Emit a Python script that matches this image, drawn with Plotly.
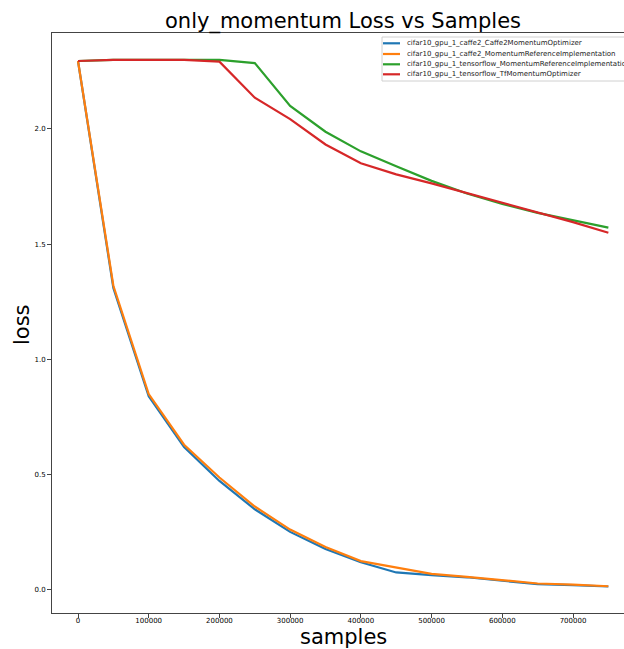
import plotly.graph_objects as go

samples = [0, 50000, 100000, 150000, 200000, 250000, 300000, 350000, 400000,
           450000, 500000, 550000, 600000, 650000, 700000, 750000]

names = [
    "cifar10_gpu_1_caffe2_Caffe2MomentumOptimizer",
    "cifar10_gpu_1_caffe2_MomentumReferenceImplementation",
    "cifar10_gpu_1_tensorflow_MomentumReferenceImplementation",
    "cifar10_gpu_1_tensorflow_TfMomentumOptimizer",
]

caffe2_opt = [2.295, 1.31, 0.84, 0.62, 0.473, 0.35, 0.252, 0.178, 0.12,
              0.076, 0.064, 0.055, 0.04, 0.025, 0.021, 0.015]
caffe2_ref = [2.295, 1.32, 0.85, 0.63, 0.488, 0.362, 0.262, 0.186, 0.125,
              0.098, 0.07, 0.057, 0.042, 0.028, 0.023, 0.016]
tf_ref = [2.295, 2.30, 2.30, 2.30, 2.30, 2.286, 2.10, 1.988, 1.903,
          1.838, 1.775, 1.72, 1.675, 1.636, 1.603, 1.572]
tf_opt = [2.295, 2.30, 2.30, 2.30, 2.292, 2.136, 2.043, 1.933, 1.851,
          1.803, 1.764, 1.722, 1.682, 1.638, 1.596, 1.55]

x_tickvals = [0, 100000, 200000, 300000, 400000, 500000, 600000, 700000]
x_ticktext = ["0", "100000", "200000", "300000", "400000", "500000", "600000", "700000"]
y_tickvals = [0, 0.5, 1.0, 1.5, 2.0]
y_ticktext = ["0.0", "0.5", "1.0", "1.5", "2.0"]

series = [caffe2_opt, caffe2_ref, tf_ref, tf_opt]
colors = ["#1f77b4", "#ff7f0e", "#2ca02c", "#d62728"]

W, H = 624, 649
L, R, T, B = 52, 0, 33, 36
PW, PH = W - L - R, H - T - B


def px(x):
    return (x - L) / PW


def py(y):
    return (H - B - y) / PH


fig = go.Figure()
for name, vals, c in zip(names, series, colors):
    fig.add_trace(go.Scatter(x=samples, y=vals, mode="lines", name=name,
                             line=dict(color=c, width=2.2), showlegend=False))

# compact legend (matplotlib style)
shapes = [dict(type="rect", xref="paper", yref="paper",
               x0=px(382), x1=px(660), y0=py(81), y1=py(37),
               line=dict(color="#d0d0d0", width=1), fillcolor="rgba(255,255,255,0.8)",
               layer="above")]
annotations = []
row_y = [43.3, 54.0, 64.3, 74.3]
for name, c, ry in zip(names, colors, row_y):
    shapes.append(dict(type="line", xref="paper", yref="paper",
                       x0=px(383), x1=px(400), y0=py(ry), y1=py(ry),
                       line=dict(color=c, width=2.2), layer="above"))
    annotations.append(dict(text=name, xref="paper", yref="paper",
                            x=px(405), y=py(ry), xanchor="left", yanchor="middle",
                            showarrow=False, font=dict(size=7, color="#222")))

annotations.append(dict(text="samples", xref="paper", yref="paper",
                        x=px(343), y=py(637), xanchor="center", yanchor="middle",
                        showarrow=False, font=dict(size=21, color="black")))
annotations.append(dict(text="loss", xref="paper", yref="paper",
                        x=px(22), y=py(325), xanchor="center", yanchor="middle",
                        textangle=-90, showarrow=False, font=dict(size=21, color="black")))

fig.update_layout(
    width=W, height=H,
    margin=dict(l=L, r=R, t=T, b=B, autoexpand=False),
    paper_bgcolor="white", plot_bgcolor="white",
    font=dict(family="DejaVu Sans", color="black"),
    title=dict(text="only_momentum Loss vs Samples", x=343 / W, xanchor="center",
               y=1 - 21 / H, yanchor="middle", font=dict(size=21)),
    showlegend=False,
    shapes=shapes,
    annotations=annotations,
)
fig.update_xaxes(
    range=[-36768, 772121], tickvals=x_tickvals, ticktext=x_ticktext,
    showgrid=False, zeroline=False, showline=True, linecolor="#444", linewidth=1, mirror=True,
    ticks="outside", ticklen=4, tickcolor="#444", tickfont=dict(size=7), automargin=False,
    ticklabelstandoff=-3,
)
fig.update_yaxes(
    range=[-0.1, 2.4165], tickvals=y_tickvals, ticktext=y_ticktext,
    showgrid=False, zeroline=False, showline=True, linecolor="#444", linewidth=1,
    ticks="outside", ticklen=4, tickcolor="#444", tickfont=dict(size=7), automargin=False,
)

fig.write_html(
    "out.html",
    config={"displayModeBar": False},
    post_script="document.body.style.margin='0';document.body.style.overflow='hidden';",
)
